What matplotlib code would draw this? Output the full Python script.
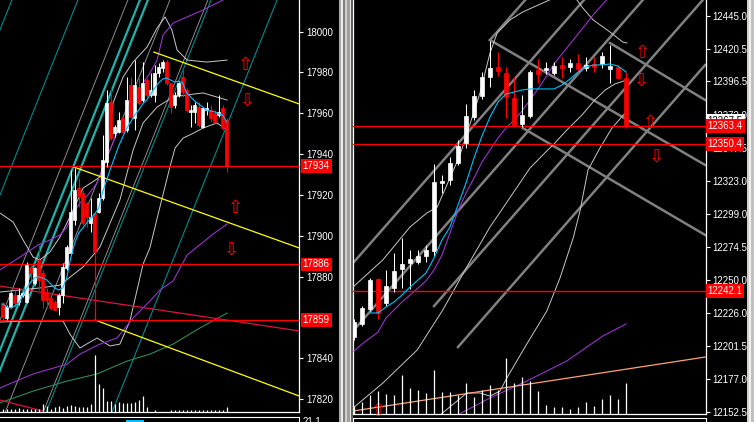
import matplotlib
matplotlib.use("Agg")
import matplotlib.pyplot as plt
from matplotlib.patches import Rectangle

plt.rcParams['font.family'] = ['Liberation Sans', 'DejaVu Sans']

W, H = 754, 422

# ---------------- left chart (index 0..56) ----------------
l_open = [17867.0, 17859.6, 17865.3, 17871.1, 17867.8, 17871.1, 17867.8, 17884.9, 17876.8, 17888.2,
          17881.7, 17872.7, 17869.4, 17867.8, 17865.3, 17871.1, 17884.1, 17891.5, 17907.8, 17923.3,
          17920.8, 17915.9, 17906.1, 17911.0, 17911.9, 17918.4, 17936.3, 17965.7, 17950.2, 17951.0,
          17957.5, 17951.8, 17973.9, 17957.5, 17973.1, 17966.5, 17976.3, 17969.0, 17969.0, 17979.6,
          17982.0, 17985.3, 17974.7, 17964.1, 17969.0, 17977.9, 17971.4, 17960.8, 17960.8, 17963.3,
          17953.5, 17961.6, 17961.6, 17960.0, 17959.2, 17962.4, 17956.7]
l_high = [17867.5, 17866.2, 17872.7, 17873.5, 17874.3, 17872.7, 17887.4, 17885.7, 17884.9, 17895.5,
          17883.3, 17874.3, 17870.2, 17868.6, 17871.9, 17886.6, 17895.5, 17932.3, 17933.1, 17928.2,
          17922.5, 17916.7, 17918.4, 17911.9, 17920.8, 17949.4, 17971.4, 17973.1, 17954.3, 17960.8,
          17958.4, 17977.9, 17977.9, 17986.1, 17977.1, 17985.3, 17977.1, 17979.6, 17983.7, 17984.5,
          17986.1, 17986.1, 17974.7, 17970.6, 17975.5, 17981.2, 17972.2, 17964.1, 17965.7, 17965.7,
          17963.3, 17965.7, 17964.1, 17961.6, 17969.0, 17964.1, 17957.5]
l_low = [17858.8, 17858.8, 17864.5, 17865.3, 17866.2, 17870.2, 17867.0, 17876.8, 17875.9, 17873.5,
         17864.5, 17864.5, 17863.7, 17863.7, 17861.3, 17867.0, 17883.3, 17890.6, 17905.3, 17914.3,
         17905.3, 17904.5, 17902.1, 17890.6, 17911.0, 17917.6, 17933.9, 17946.9, 17948.6, 17950.2,
         17950.2, 17951.0, 17957.5, 17951.8, 17964.1, 17965.7, 17968.2, 17968.2, 17965.7, 17977.9,
         17980.4, 17973.9, 17960.0, 17962.4, 17968.2, 17968.2, 17960.8, 17953.5, 17955.1, 17953.5,
         17952.7, 17959.2, 17955.9, 17955.1, 17958.4, 17951.8, 17931.4]
l_close = [17860.4, 17865.3, 17871.9, 17867.0, 17871.1, 17871.9, 17885.7, 17881.7, 17884.4, 17878.4,
           17868.6, 17868.6, 17864.5, 17863.7, 17871.1, 17884.9, 17894.7, 17911.9, 17922.5, 17919.2,
           17906.1, 17909.4, 17909.4, 17892.3, 17918.4, 17937.1, 17964.9, 17947.8, 17953.5, 17956.7,
           17951.0, 17966.5, 17958.4, 17973.9, 17964.9, 17974.7, 17969.0, 17971.4, 17979.6, 17982.8,
           17985.3, 17974.7, 17963.3, 17969.0, 17974.7, 17970.6, 17961.6, 17961.6, 17964.1, 17954.3,
           17962.4, 17962.4, 17957.5, 17955.9, 17960.8, 17952.7, 17934.0]
l_vol = [3, 3, 3, 3, 4, 3, 3, 3, 3, 3, 8, 6, 3, 5, 6, 4, 6, 7, 6, 5,
         5, 5, 8, 57, 28, 24, 11, 11, 8, 10, 9, 9, 9, 10, 12, 16, 5, 0, 2, 0,
         0, 0, 2, 2, 2, 2, 2, 2, 2, 2, 2, 2, 2, 2, 2, 2, 5]
l_ma_fast = [17866.6, 17865.2, 17864.7, 17865.7, 17867.1, 17870.5, 17874.5, 17877.4, 17879.4, 17879.9,
             17879.4, 17878.4, 17876.4, 17874.5, 17873.5, 17874.5, 17879.4, 17889.2, 17896.5, 17901.4,
             17903.8, 17906.3, 17908.7, 17910.7, 17913.6, 17921.5, 17927.4, 17933.2, 17938.6, 17944.0,
             17948.4, 17952.8, 17955.8, 17959.2, 17961.6, 17964.6, 17966.5, 17969.5, 17972.4, 17974.9,
             17976.8, 17977.3, 17976.3, 17975.3, 17975.8, 17974.9, 17970.0, 17968.0, 17966.0, 17964.6,
             17963.1, 17961.6, 17961.1, 17960.7, 17959.7, 17959.2, 17955.8]
l_ma_slow_x = [-0.7, 4.3, 8.8, 11.8, 14.3, 16.1, 17.6, 19.3, 21.3, 23.6, 25.1, 26.8, 28.6, 31.1,
               33.6, 35.1, 36.8, 38.6, 40.1, 42.6, 46.1, 50.1, 52.6, 55.1]
l_ma_slow = [17883.3, 17889.6, 17895.5, 17898.0, 17900.4, 17904.3, 17911.2, 17916.1, 17920.0, 17925.9,
             17933.7, 17942.0, 17950.4, 17958.2, 17968.0, 17974.9, 17979.7, 17986.1, 17998.4, 18004.2,
             18007.2, 18010.6, 18013.1, 18015.5]
l_bb_up_x = [-0.7, 2.6, 5.1, 7.6, 9.3, 11.8, 14.3, 16.8, 20.1, 24.3, 26.1, 27.6, 30.1, 32.6, 36.1,
             38.6, 40.6, 42.3, 43.6, 46.1, 51.1, 56.1]
l_bb_up = [17911.2, 17906.8, 17898.0, 17889.6, 17888.2, 17892.1, 17899.4, 17909.2, 17923.4, 17928.8,
           17938.6, 17965.1, 17977.8, 17985.1, 17992.5, 18001.8, 18007.2, 18000.8, 17991.0, 17986.1,
           17985.1, 17986.1]
l_bb_mid_x = [-0.7, 9.3, 14.3, 20.1, 24.3, 29.3, 32.6, 35.1, 38.6, 42.6, 46.1, 50.1, 56.1]
l_bb_mid = [17872.5, 17874.5, 17875.9, 17884.8, 17894.5, 17917.6, 17942.0, 17955.3, 17963.1, 17968.0,
            17969.0, 17970.0, 17966.5]
l_bb_lo_x = [-0.7, 6.1, 15.1, 16.8, 19.3, 23.6, 26.8, 29.3, 31.8, 35.1, 36.8, 39.3, 41.8, 43.1,
             45.1, 47.3, 50.1, 53.6, 56.1]
l_bb_lo = [17857.8, 17858.3, 17858.3, 17851.9, 17845.1, 17850.0, 17846.1, 17847.0, 17858.3, 17886.2,
           17894.1, 17914.1, 17933.7, 17943.0, 17947.9, 17949.9, 17952.8, 17955.3, 17951.8]
l_vma_x = [-0.7, 7.6, 16.1, 19.3, 24.3, 28.6, 32.6, 36.8, 39.3, 42.6, 46.1, 52.6, 56.1]
l_vma = [17825.5, 17832.4, 17837.2, 17842.1, 17847.0, 17850.0, 17859.8, 17868.1, 17873.5, 17877.9,
         17890.6, 17900.9, 17905.8]
l_green_x = [-0.7, 7.6, 16.1, 23.6, 31.1, 36.8, 42.6, 49.3, 56.1]
l_green = [17818.2, 17824.0, 17828.9, 17832.4, 17838.7, 17842.1, 17847.0, 17854.9, 17862.2]
# channel lines: index where each line leaves the top / bottom of the price range
l_chan_hi, l_chan_lo = 18015.5, 17814.0
l_teal_thick_top = [34.3, 36.3]
l_teal_thick_bot = [-6.8, -4.8]
l_teal_thin_top = [2.3, 18.8, 52.1, 68.6]
l_teal_thin_bot = [-38.8, -22.3, 10.9, 27.4]
l_gray_top = [31.3, 41.8, 51.3]
l_gray_bot = [-9.8, 0.7, 10.2]
l_yellow = [((37.8, 17990.0), (74.1, 17964.6)),
            ((17.8, 17933.7), (74.1, 17894.1)),
            ((23.1, 17858.8), (74.1, 17821.6))]
l_crimson = [((-0.7, 17875.4), (74.3, 17853.4)),
             ((-0.7, 17819.6), (10.1, 17814.2))]
l_levels = [17934, 17886, 17859]
l_vline = (23, 17890.6, 17859)
l_up_arrows = [(60.8, 17983.7), (58.1, 17913.6)]
l_dn_arrows = [(61.1, 17966.5), (57.3, 17893.1)]
l_ticks = [18000, 17980, 17960, 17940, 17920, 17900, 17880, 17840, 17820]

# ---------------- right chart (index 0..34) ----------------
r_open = [12208.0, 12217.6, 12228.6, 12250.7, 12233.0, 12244.1, 12258.1, 12262.5, 12263.3, 12267.7,
          12271.4, 12321.5, 12323.8, 12336.3, 12351.0, 12370.2, 12385.7, 12399.7, 12407.1, 12402.6,
          12384.2, 12365.1, 12371.0, 12404.9, 12404.9, 12402.6, 12408.6, 12407.1, 12410.0, 12406.4,
          12409.3, 12409.3, 12405.6, 12407.1, 12399.0]
r_high = [12221.2, 12230.8, 12251.5, 12251.5, 12257.4, 12269.9, 12281.0, 12272.1, 12272.1, 12275.8,
          12335.6, 12327.4, 12340.7, 12353.3, 12379.8, 12390.1, 12403.4, 12426.3, 12418.2, 12407.1,
          12399.7, 12386.4, 12404.9, 12413.0, 12410.8, 12410.8, 12414.5, 12413.0, 12416.7, 12414.5,
          12414.5, 12418.2, 12423.3, 12408.6, 12403.4]
r_low = [12205.8, 12216.1, 12227.1, 12221.2, 12230.8, 12241.2, 12244.1, 12243.4, 12261.8, 12263.3,
         12267.7, 12314.2, 12320.1, 12334.8, 12347.4, 12368.0, 12383.5, 12392.3, 12400.5, 12369.5,
         12362.8, 12362.8, 12369.5, 12395.3, 12401.9, 12401.2, 12399.0, 12403.4, 12403.4, 12404.1,
         12403.4, 12406.4, 12395.3, 12398.2, 12361.9]
r_close = [12219.0, 12229.4, 12250.0, 12225.7, 12245.6, 12256.6, 12261.8, 12265.5, 12267.7, 12272.1,
           12322.3, 12323.0, 12336.3, 12348.8, 12371.0, 12385.7, 12399.7, 12406.4, 12404.1, 12385.0,
           12364.3, 12371.7, 12403.4, 12401.9, 12406.4, 12407.8, 12406.4, 12410.0, 12405.6, 12408.6,
           12407.1, 12415.2, 12407.8, 12399.0, 12363.4]
r_vol = [8, 12, 19, 23, 20, 19, 39, 26, 24, 21, 44, 22, 22, 19, 31, 17, 24, 29, 24, 56,
         31, 37, 33, 23, 9, 7, 7, 5, 7, 12, 8, 15, 19, 15, 31]
r_ma_fast = [12225.7, 12225.7, 12230.1, 12233.8, 12238.9, 12244.8, 12250.0, 12255.2, 12266.2, 12279.5,
             12289.1, 12305.3, 12321.5, 12340.0, 12356.2, 12370.2, 12381.3, 12387.2, 12388.6, 12390.1,
             12390.9, 12390.9, 12390.9, 12390.9, 12393.8, 12398.2, 12403.4, 12407.1, 12408.6, 12408.6,
             12409.3, 12407.8, 12403.4]   # from bar 2
r_ma_slow = [12197.6, 12202.8, 12207.2, 12211.6, 12222.0, 12227.9, 12233.8, 12238.9, 12244.1, 12249.3,
             12257.4, 12268.4, 12284.7, 12300.9, 12314.2, 12325.2, 12337.0, 12345.9, 12354.7, 12362.1,
             12368.0, 12374.6, 12382.7, 12390.9, 12399.7, 12409.3, 12416.7, 12424.0, 12431.4, 12438.8,
             12446.2, 12452.8, 12459.5]
r_bb_up_x = [-0.125, 3.6, 7.0, 9.1, 10.4, 13.25, 15.75, 17.0, 17.9, 19.5, 21.1, 23.6, 25.25, 27.6,
             28.6, 29.9, 32.0, 33.6, 34.1]
r_bb_up = [12244.8, 12264.8, 12289.1, 12299.4, 12303.8, 12342.2, 12387.9, 12417.4, 12432.2, 12441.8,
           12447.7, 12454.3, 12458.7, 12458.7, 12450.6, 12441.8, 12432.9, 12425.5, 12424.8]
r_bb_lo_x = [-0.125, 3.6, 7.9, 11.1, 14.1, 17.0, 20.4, 22.0, 23.6, 25.1, 26.6, 28.5, 30.1, 31.4,
             32.6, 34.1]
r_bb_lo = [12155.6, 12174.0, 12198.4, 12227.9, 12259.6, 12289.1, 12318.6, 12332.6, 12342.2, 12351.0,
           12360.6, 12371.7, 12382.8, 12390.1, 12394.6, 12397.5]
r_slow_x = [10.75, 14.1, 15.75, 17.0, 18.25, 19.1, 21.6, 24.1, 25.75, 27.4, 28.25, 29.25, 30.75,
            32.25, 33.9]
r_slow = [12150.4, 12166.7, 12166.7, 12164.4, 12168.1, 12177.7, 12202.8, 12227.1, 12251.5, 12281.0,
          12300.9, 12331.1, 12347.4, 12362.1, 12373.2]
r_vma_x = [12.9, 17.0, 21.6, 26.6, 31.1, 34.0]
r_vma = [12150.4, 12163.0, 12175.5, 12190.3, 12208.7, 12217.6]
r_trend = ((-0.125, 12153.4), (43.9, 12193.2))
r_fork = [((17.0, 12427.0), (21.4, 12456.5)),
          ((-0.125, 12262.5), (28.75, 12456.5)),
          ((-0.125, 12212.4), (36.1, 12456.5)),
          ((10.0, 12230.8), (43.6, 12456.5)),
          ((13.0, 12200.6), (43.9, 12408.6)),
          ((17.0, 12427.0), (43.9, 12334.8)),
          ((32.0, 12424.8), (43.9, 12382.75)),
          ((21.1, 12362.1), (43.9, 12283.2))]
r_levels = [12363.4, 12350.4, 12242.1]
r_up_arrows = [(36.1, 12417.4), (37.0, 12365.8), (3.0, 12153.4)]
r_dn_arrows = [(35.9, 12396.8), (37.75, 12340.7)]
r_ticks = [12445.0, 12420.5, 12396.5, 12372.0, 12347.5, 12323.0, 12299.0, 12274.5,
           12250.0, 12226.0, 12201.5, 12177.0, 12152.5]


def rect(x0, y0, w, h):
    return [x0 / W, (H - y0 - h) / H, w / W, h / H]


def candles(ax, o, hi, lo, c, width):
    for i in range(len(o)):
        col = 'white' if c[i] >= o[i] else 'red'
        ax.vlines(i, lo[i], hi[i], color=col, lw=0.75, zorder=5)
        b = min(o[i], c[i])
        ax.bar(i, abs(c[i] - o[i]), width, bottom=b, color=col, edgecolor=col,
               lw=0.5, zorder=6)


def style(ax, spines):
    ax.set_facecolor('black')
    for k, s in ax.spines.items():
        s.set_visible(k in spines)
        s.set_color('white')
        s.set_linewidth(0.9)
    ax.yaxis.set_ticks_position('right')
    ax.tick_params(axis='y', colors='white', length=3, width=0.8, labelsize=7, pad=2,
                   left=False, labelleft=False, right=True, labelright=True)
    ax.tick_params(axis='x', bottom=False, labelbottom=False)


def tag(ax, xa, val, txt, fc, tc, z=8):
    ax.text(xa, val, txt, transform=ax.get_yaxis_transform(), color=tc, fontsize=7,
            va='center', ha='left', zorder=z, clip_on=False,
            bbox=dict(boxstyle='square,pad=0.2', fc=fc, ec='none'))


def arrows(ax, ups, downs):
    for x, y in ups:
        ax.text(x, y, '\u21e7', color='red', fontsize=13, ha='center', va='center',
                family='DejaVu Sans', zorder=9)
    for x, y in downs:
        ax.text(x, y, '\u21e9', color='red', fontsize=13, ha='center', va='center',
                family='DejaVu Sans', zorder=9)


fig = plt.figure(figsize=(W / 100, H / 100), dpi=100)
fig.patch.set_facecolor('black')

# window frames between and right of the two charts
for x0, w, col in [(339, 2, '#A8A8A8'), (341, 2, '#ECECEC'), (343, 2, '#808080'),
                   (345, 2, '#D4D0C8'), (347, 3, '#A0A0A0'), (350, 1, '#E8E8E8'),
                   (351, 2, '#606060'), (747, 2, '#D4D0C8'), (749, 2, '#F0F0F0'),
                   (751, 3, '#C0C0C0')]:
    fig.add_artist(Rectangle((x0 / W, 0), w / W, 1, transform=fig.transFigure,
                             fc=col, ec='none'))

# ================= left panel =================
axl = fig.add_axes(rect(0, 0, 299, 411.5))
vl = axl.twinx()
style(axl, ['right', 'bottom'])
axl.set_xlim(-0.675, 74.08)
axl.set_ylim(17814.0, 18015.5)
axl.set_yticks(l_ticks)
axl.set_yticklabels([str(t) for t in l_ticks])

for t, b in zip(l_teal_thin_top, l_teal_thin_bot):
    axl.plot([b, t], [l_chan_lo, l_chan_hi], color='#008B8B', lw=0.8, zorder=2)
for t, b in zip(l_teal_thick_top, l_teal_thick_bot):
    axl.plot([b, t], [l_chan_lo, l_chan_hi], color='#20B2AA', lw=1.6, zorder=2)
for t, b in zip(l_gray_top, l_gray_bot):
    axl.plot([b, t], [l_chan_lo, l_chan_hi], color='#8C8C8C', lw=0.7, zorder=2)

axl.plot(l_bb_up_x, l_bb_up, color='#C8C8C8', lw=0.7, zorder=3)
axl.plot(l_bb_mid_x, l_bb_mid, color='#C8C8C8', lw=0.7, zorder=3)
axl.plot(l_bb_lo_x, l_bb_lo, color='#C8C8C8', lw=0.7, zorder=3)
axl.plot(l_green_x, l_green, color='#2E8B57', lw=0.8, zorder=3)
axl.plot(l_vma_x, l_vma, color='#9932CC', lw=0.8, zorder=3)
axl.plot(l_ma_slow_x, l_ma_slow, color='#9932CC', lw=0.8, zorder=3)
for (x0, y0), (x1, y1) in l_crimson:
    axl.plot([x0, x1], [y0, y1], color='#DC143C', lw=0.9, zorder=3)
for (x0, y0), (x1, y1) in l_yellow:
    axl.plot([x0, x1], [y0, y1], color='#FFFF00', lw=0.9, zorder=3)
for v in l_levels:
    axl.axhline(v, color='red', lw=1.0, zorder=4)
axl.vlines(l_vline[0], l_vline[2], l_vline[1], color='red', lw=0.9, zorder=4)

candles(axl, l_open, l_high, l_low, l_close, 0.72)
axl.plot(range(len(l_ma_fast)), l_ma_fast, color='#00BFFF', lw=0.8, zorder=7)
arrows(axl, l_up_arrows, l_dn_arrows)

vl.set_ylim(0, 411.5)
vl.vlines(range(len(l_vol)), 0, l_vol, color='white', lw=0.9)
vl.axis('off')

for v in l_levels:
    tag(axl, 1.012, v, str(v), 'red', 'white')

# ================= right panel =================
axr = fig.add_axes(rect(353, 0, 352.5, 414))
vr = axr.twinx()
style(axr, ['left', 'right', 'bottom'])
axr.set_xlim(-0.125, 43.94)
axr.set_ylim(12151.2, 12456.5)
axr.set_yticks(r_ticks)
axr.set_yticklabels(['%.1f' % t for t in r_ticks])

for (x0, y0), (x1, y1) in r_fork:
    axr.plot([x0, x1], [y0, y1], color='#808080', lw=1.8, zorder=2)
axr.plot(r_bb_up_x, r_bb_up, color='#C8C8C8', lw=0.7, zorder=3)
axr.plot(r_bb_lo_x, r_bb_lo, color='#C8C8C8', lw=0.7, zorder=3)
axr.plot(r_slow_x, r_slow, color='#C8C8C8', lw=0.7, zorder=3)
axr.plot(range(len(r_ma_slow)), r_ma_slow, color='#9932CC', lw=0.8, zorder=3)
axr.plot(r_vma_x, r_vma, color='#9932CC', lw=0.8, zorder=3)
axr.plot([r_trend[0][0], r_trend[1][0]], [r_trend[0][1], r_trend[1][1]],
         color='#FFA07A', lw=0.9, zorder=3)
for v in r_levels:
    axr.axhline(v, color='red', lw=1.0, zorder=4)

candles(axr, r_open, r_high, r_low, r_close, 0.62)
axr.plot(range(2, 2 + len(r_ma_fast)), r_ma_fast, color='#00BFFF', lw=0.8, zorder=7)
arrows(axr, r_up_arrows, r_dn_arrows)

vr.set_ylim(0, 414)
vr.vlines(range(len(r_vol)), 0, r_vol, color='white', lw=0.9)
vr.axis('off')

tag(axr, 1.006, 12367.5, '12367.5', 'white', 'black', z=8)
for v in r_levels:
    tag(axr, 1.006, v, '%.1f' % v, 'red', 'white', z=9)

# ================= bottom sub-windows =================
bl = fig.add_axes(rect(0, 416.5, 299, 6))
bl.set_facecolor('black')
bl.set_xticks([])
bl.set_yticks([])
for k, s in bl.spines.items():
    s.set_visible(k in ('top', 'right'))
    s.set_color('white')
bl.add_patch(Rectangle((0.42, 0.0), 0.06, 0.35, transform=bl.transAxes, fc='#00BFFF', ec='none'))
fig.text(303 / W, (H - 417) / H, '21.1', color='white', fontsize=7, va='top', ha='left')

br = fig.add_axes(rect(353, 418, 352.5, 4))
br.set_facecolor('black')
br.set_xticks([])
br.set_yticks([])
for k, s in br.spines.items():
    s.set_visible(k in ('top', 'left', 'right'))
    s.set_color('white')

fig.savefig('out.png', dpi=100, facecolor=fig.get_facecolor())
